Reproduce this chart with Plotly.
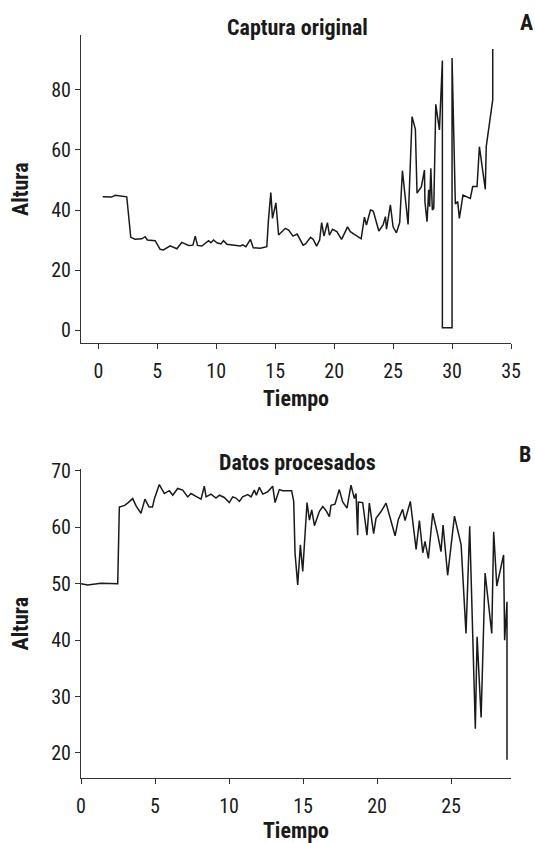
import plotly.graph_objects as go

# Panel A: original capture
time_a = [0.37, 1.13, 1.42, 1.84, 2.41, 2.75, 3.12, 3.68, 3.97, 4.16, 4.82, 5.24, 5.52, 6.09, 6.66,
          7.08, 7.65, 8.02, 8.22, 8.41, 8.78, 9.35, 9.55, 9.77, 10.06, 10.4, 10.62, 10.9, 11.6, 12.04,
          12.24, 12.52, 12.9, 13.14, 13.74, 14.29, 14.43, 14.63, 14.77, 15.06, 15.29, 15.86, 16.14,
          16.51, 16.86, 17.37, 17.57, 18.0, 18.23, 18.51, 18.77, 18.94, 19.14, 19.43, 19.6, 19.86,
          20.23, 20.63, 21.14, 21.37, 22.29, 22.57, 22.74, 23.08, 23.29, 23.36, 23.79, 24.15, 24.35,
          24.44, 24.77, 25.0, 25.28, 25.56, 25.79, 26.27, 26.61, 26.89, 27.03, 27.4, 27.66, 27.7,
          27.88, 28.02, 28.1, 28.2, 28.33, 28.45, 28.62, 28.93, 29.18, 29.18, 30.0, 30.0, 30.28,
          30.48, 30.62, 30.93, 31.55, 31.75, 32.12, 32.32, 32.82, 32.9, 33.45, 33.45]
altura_a = [44.4, 44.3, 44.9, 44.7, 44.4, 30.9, 30.3, 30.4, 31.1, 30.0, 29.8, 26.9, 26.7, 28.1, 27.1,
            29.2, 28.2, 28.3, 31.3, 28.2, 28.0, 29.8, 29.1, 30.0, 29.1, 28.7, 29.8, 28.6, 28.2, 28.0,
            28.4, 27.8, 30.2, 27.4, 27.3, 27.8, 36.7, 45.8, 37.2, 42.4, 31.7, 33.9, 33.3,
            31.3, 32.0, 28.3, 28.7, 30.9, 30.2, 28.0, 30.0, 35.8, 31.3, 35.8, 31.6, 33.6,
            32.8, 30.2, 34.4, 32.8, 30.4, 37.6, 35.0, 40.0, 39.7, 39.1, 33.0, 35.0, 37.8,
            33.6, 41.7, 34.4, 32.4, 35.8, 53.1, 35.2, 71.1, 66.9, 45.6, 47.8, 53.3, 42.8,
            36.1, 46.7, 41.1, 53.9, 40.0, 40.6, 75.2, 66.7, 89.8, 0.8, 0.8, 90.6, 42.0,
            42.8, 37.2, 45.0, 43.9, 47.8, 47.8, 61.1, 46.9, 61.1, 76.7, 93.6]

# Panel B: processed data
time_b = [0.0, 0.45, 1.35, 2.48, 2.59, 2.95, 3.15, 3.49, 3.72, 4.05, 4.32, 4.6, 4.83, 4.95, 5.29,
          5.63, 5.97, 6.2, 6.53, 6.87, 7.21, 7.43, 7.77, 8.11, 8.33, 8.45, 8.78, 9.12, 9.35, 9.68,
          10.02, 10.25, 10.47, 10.7, 10.92, 11.26, 11.49, 11.71, 11.85, 12.05, 12.28, 12.61, 12.95,
          13.11, 13.4, 13.63, 14.23, 14.37, 14.46, 14.64, 14.82, 14.98, 15.27, 15.43, 15.59, 15.77,
          16.1, 16.33, 16.55, 16.78, 16.89, 17.16, 17.45, 17.68, 17.97, 18.24, 18.47, 18.58, 18.69,
          18.74, 19.03, 19.32, 19.48, 19.77, 19.93, 20.27, 20.61, 21.22, 21.44, 21.73, 21.89, 22.25,
          22.64, 22.86, 23.09, 23.24, 23.47, 23.76, 24.1, 24.32, 24.46, 24.77, 25.23, 25.68, 26.01,
          26.26, 26.64, 26.76, 27.03, 27.3, 27.75, 27.88, 28.09, 28.55, 28.62, 28.78, 28.78]
altura_b = [50.0, 49.8, 50.1, 50.0, 63.6, 63.9, 64.3, 65.1, 63.8, 62.5, 65.0, 63.6, 63.6, 65.0, 67.6,
            66.0, 66.5, 65.7, 66.9, 66.6, 65.4, 66.0, 65.5, 65.0, 67.3, 65.4, 65.9, 65.2, 65.7, 65.3,
            64.4, 65.4, 65.2, 64.6, 65.4, 65.8, 65.4, 66.6, 65.7, 67.1, 65.9, 66.3, 67.3,
            64.4, 66.7, 66.5, 66.5, 64.6, 55.4, 49.8, 56.9, 52.2, 64.4, 61.3, 63.1, 60.3,
            62.8, 63.7, 63.0, 61.9, 63.9, 64.1, 66.7, 64.5, 63.4, 67.5, 65.1, 66.0, 58.6,
            64.5, 64.4, 58.6, 64.3, 58.9, 61.6, 62.8, 64.3, 58.5, 61.4, 63.2, 61.2, 64.6,
            56.1, 61.2, 55.5, 57.5, 54.5, 62.5, 58.7, 55.7, 60.4, 51.5, 62.0, 56.9, 41.2,
            60.2, 24.3, 40.6, 26.3, 51.9, 41.2, 59.2, 49.6, 55.1, 40.0, 46.8, 18.8]

x_ticks_a = [0, 5, 10, 15, 20, 25, 30, 35]
y_ticks_a = [0, 20, 40, 60, 80]
x_ticks_b = [0, 5, 10, 15, 20, 25]
y_ticks_b = [20, 30, 40, 50, 60, 70]

FONT = "Liberation Sans Narrow, Roboto Condensed, Roboto, sans-serif"
W, H = 535, 843
line_style = dict(color="#1a1a1a", width=1.5)

fig = go.Figure()
fig.add_trace(go.Scatter(x=time_a, y=altura_a, mode="lines", line=line_style,
                         xaxis="x", yaxis="y", showlegend=False))
fig.add_trace(go.Scatter(x=time_b, y=altura_b, mode="lines", line=line_style,
                         xaxis="x2", yaxis="y2", showlegend=False))

def px_x(p):
    return p / W

def px_y(p):
    return 1 - p / H

axis_common = dict(showline=True, linecolor="#333", linewidth=1.2, ticks="outside",
                   ticklen=5, tickcolor="#333", tickwidth=1.2, showgrid=False, zeroline=False,
                   automargin=False,
                   tickfont=dict(family=FONT, size=20, color="#1a1a1a"))
xt_font = dict(family=FONT, size=22, color="#1a1a1a", weight="bold")
title_font = dict(family=FONT, size=22, color="#1a1a1a")

def label(text, x, y):
    return dict(text=f"<b>{text}</b>", x=px_x(x), y=px_y(y), xref="paper", yref="paper",
                xanchor="center", yanchor="middle", showarrow=False, font=title_font)

fig.update_layout(
    width=W, height=H, margin=dict(l=0, r=0, t=0, b=0, autoexpand=False),
    paper_bgcolor="white", plot_bgcolor="white",
    xaxis=dict(domain=[px_x(81), px_x(511)], range=[-1.47, 35], tickvals=x_ticks_a,
               anchor="y", ticklabelstandoff=5,
               title=dict(text="Tiempo", font=xt_font, standoff=8), **axis_common),
    yaxis=dict(domain=[px_y(343.3), px_y(35)], range=[-4.4, 98.3], tickvals=y_ticks_a,
               anchor="x", ticklabelstandoff=0,
               title=dict(text="Altura", font=xt_font, standoff=16), **axis_common),
    xaxis2=dict(domain=[px_x(81), px_x(511)], range=[0, 29.05], tickvals=x_ticks_b,
                anchor="y2", ticklabelstandoff=5,
                title=dict(text="Tiempo", font=xt_font, standoff=8), **axis_common),
    yaxis2=dict(domain=[px_y(778.3), px_y(469)], range=[15.5, 70.35], tickvals=y_ticks_b,
                anchor="x2", ticklabelstandoff=0,
                title=dict(text="Altura", font=xt_font, standoff=16), **axis_common),
    annotations=[
        label("Captura original", 297, 27),
        label("Datos procesados", 297, 462),
        label("A", 526, 22),
        label("B", 525, 454),
    ],
)

fig.write_html("out.html", config={"displayModeBar": False},
               post_script="document.body.style.margin='0';document.body.style.overflow='hidden';")
